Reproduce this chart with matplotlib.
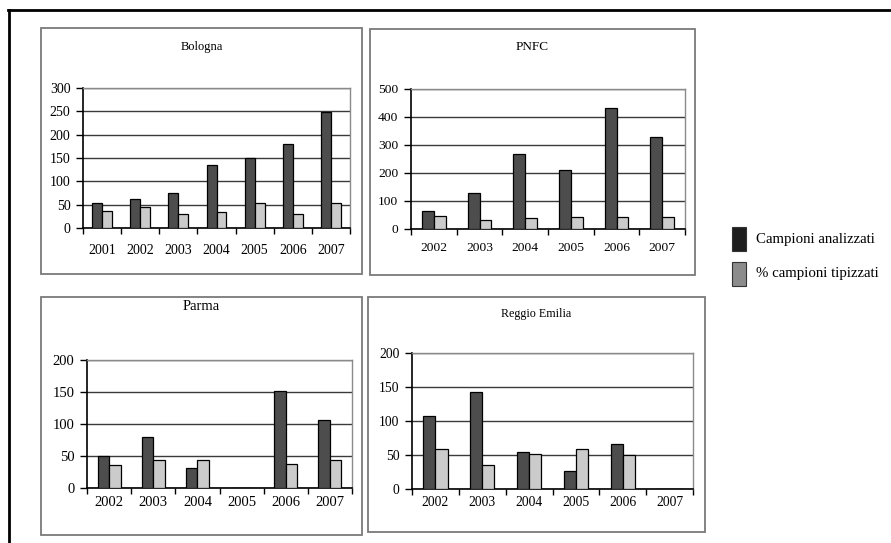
import matplotlib.pyplot as plt
from matplotlib.patches import Rectangle
from matplotlib.lines import Line2D

plt.rcParams['font.family'] = ['Liberation Serif', 'DejaVu Serif']

# Campioni analizzati / % campioni tipizzati per area
bologna_years = ['2001', '2002', '2003', '2004', '2005', '2006', '2007']
bologna_analizzati = [54, 62, 76, 134, 150, 180, 249]
bologna_tipizzati = [37, 46, 29, 34, 54, 30, 53]

pnfc_years = ['2002', '2003', '2004', '2005', '2006', '2007']
pnfc_analizzati = [65, 127, 268, 211, 431, 329]
pnfc_tipizzati = [48, 31, 38, 44, 44, 44]

parma_years = ['2002', '2003', '2004', '2005', '2006', '2007']
parma_analizzati = [50, 80, 31, 0, 152, 107]
parma_tipizzati = [36, 44, 44, 0, 38, 44]

reggio_years = ['2002', '2003', '2004', '2005', '2006', '2007']
reggio_analizzati = [108, 143, 54, 26, 66, 0]
reggio_tipizzati = [59, 35, 51, 59, 50, 0]

W, H = 891, 543
DARK = '#4d4d4d'
LIGHT = '#cbcbcb'

fig = plt.figure(figsize=(W / 100, H / 100), dpi=100)


def frac_rect(x0, y0, x1, y1):
    # pixel box (top-left origin) -> figure fraction [left, bottom, width, height]
    return [x0 / W, 1 - y1 / H, (x1 - x0) / W, (y1 - y0) / H]


def panel(box, plot, title, title_y, years, analizzati, tipizzati, ymax, step,
          fs, title_fs, xpad):
    bx = frac_rect(*box)
    fig.patches.append(Rectangle((bx[0], bx[1]), bx[2], bx[3], transform=fig.transFigure,
                                 fill=False, edgecolor='#7a7a7a', linewidth=1.3))
    cx = (box[0] + box[2]) / 2
    fig.text(cx / W, 1 - title_y / H, title, ha='center', va='center', fontsize=title_fs)

    ax = fig.add_axes(frac_rect(*plot))
    n = len(years)
    x = list(range(n))
    w = 0.26
    ax.bar([i - w / 2 for i in x], analizzati, width=w, color=DARK,
           edgecolor='black', linewidth=0.9, zorder=3)
    ax.bar([i + w / 2 for i in x], tipizzati, width=w, color=LIGHT,
           edgecolor='black', linewidth=0.9, zorder=3)

    ax.set_xlim(-0.5, n - 0.5)
    ax.set_ylim(0, ymax)
    ax.set_yticks(range(0, ymax + 1, step))
    ax.yaxis.grid(True, color='#3a3a3a', linewidth=1.0, zorder=0)

    ax.set_xticks([i - 0.5 for i in range(n + 1)])
    ax.set_xticklabels([])
    ax.set_xticks(x, minor=True)
    ax.set_xticklabels(years, minor=True, fontsize=fs)
    ax.tick_params(axis='x', which='major', direction='out', length=4, width=1, color='black')
    ax.tick_params(axis='x', which='minor', length=0, pad=xpad)
    ax.tick_params(axis='y', direction='out', length=5, width=1, labelsize=fs, pad=4)

    for side in ['top', 'right']:
        ax.spines[side].set_color('#8a8a8a')
        ax.spines[side].set_linewidth(1.0)
    for side in ['left', 'bottom']:
        ax.spines[side].set_color('black')
        ax.spines[side].set_linewidth(1.2)
    ax.set_facecolor('white')


panel((41, 28, 362, 274), (83, 88, 350, 228), 'Bologna', 47,
      bologna_years, bologna_analizzati, bologna_tipizzati, 300, 50, 10, 9, 11.5)
panel((370, 29, 695, 275), (411, 89, 685, 229), 'PNFC', 47,
      pnfc_years, pnfc_analizzati, pnfc_tipizzati, 500, 100, 9.7, 9.5, 9.5)
panel((41, 297, 362, 535), (87, 360, 352, 488), 'Parma', 307,
      parma_years, parma_analizzati, parma_tipizzati, 200, 50, 10.5, 10.5, 5.5)
panel((368, 297, 705, 532), (412, 353, 693, 489), 'Reggio Emilia', 314,
      reggio_years, reggio_analizzati, reggio_tipizzati, 200, 50, 9.8, 8.7, 5)

# legend
for (y0, y1), col, label in [((227, 251), '#1e1e1e', 'Campioni analizzati'),
                             ((262, 286), '#8c8c8c', '% campioni tipizzati')]:
    r = frac_rect(732, y0, 746, y1)
    fig.patches.append(Rectangle((r[0], r[1]), r[2], r[3], transform=fig.transFigure,
                                 facecolor=col, edgecolor='#333333', linewidth=0.8))
    fig.text(756 / W, 1 - (y0 + y1) / 2 / H, label, ha='left', va='center', fontsize=10.7)

# outer frame (top and left edges)
fig.lines.append(Line2D([8 / W, 1], [1 - 10 / H, 1 - 10 / H], transform=fig.transFigure,
                        color='black', linewidth=2))
fig.lines.append(Line2D([9 / W, 9 / W], [1 - 10 / H, 0], transform=fig.transFigure,
                        color='black', linewidth=2))

fig.savefig('out.png', dpi=100)
